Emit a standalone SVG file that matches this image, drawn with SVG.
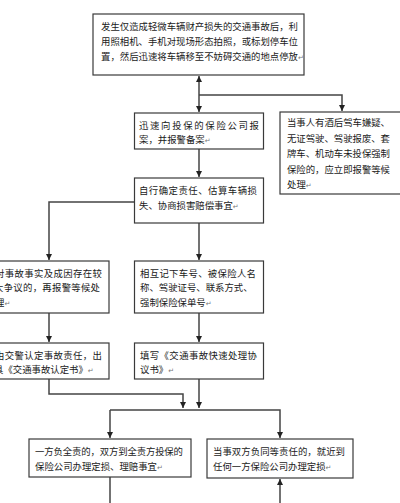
<svg xmlns="http://www.w3.org/2000/svg" width="400" height="503" viewBox="0 0 400 503">
<style>
.box{fill:#fff;stroke:#3a3a3a;stroke-width:1.2}
.t{font-family:"Noto Sans CJK SC","Noto Sans",sans-serif;font-size:9.4px;fill:#1a1a1a}
.rt{font-family:"DejaVu Sans",sans-serif;font-size:7px;fill:#777}
.c{fill:none;stroke:#444;stroke-width:1.5}
.a{marker-end:url(#ah)}
</style>
<defs>
<marker id="ah" markerUnits="userSpaceOnUse" markerWidth="8" markerHeight="8" refX="6" refY="3" orient="auto">
<path d="M0,0 L6,3 L0,6 Z" fill="#222"/>
</marker>
</defs>
<rect width="400" height="503" fill="#fff"/>
<g id="connectors">
<path class="c a" d="M199,95 L199,76"/>
<path class="c a" d="M199,95 L199,112"/>
<path class="c a" d="M199,95 L342,95 L342,111"/>
<path class="c a" d="M199,149 L199,177"/>
<path class="c a" d="M134,202 L49,202 L49,260"/>
<path class="c a" d="M199,223 L199,260"/>
<path class="c a" d="M49,313 L49,342"/>
<path class="c a" d="M199,313 L199,342"/>
<path class="c a" d="M49,379 L49,394 L183,394 L183,408"/>
<path class="c a" d="M199,379 L199,408"/>
<path class="c a" d="M110,410 L110,438"/>
<path class="c a" d="M110,410 L280,410 L280,438"/>
<path class="c" d="M110,477 L110,503"/>
<path class="c a" d="M280,503 L280,479"/>
</g>
<g id="n1">
<rect class="box" x="93" y="14" width="211" height="61"/>
<text class="t" x="101" y="29.5" textLength="197">发生仅造成轻微车辆财产损失的交通事故后，利</text>
<text class="t" x="101" y="44.5" textLength="197">用照相机、手机对现场形态拍照，或标划停车位</text>
<text class="t" x="101" y="59.5">置，然后迅速将车辆移至不妨碍交通的地点停放<tspan class="rt">↵</tspan></text>
</g>
<g id="n2">
<rect class="box" x="134.5" y="113" width="129" height="36"/>
<text class="t" x="139" y="128.5" textLength="120">迅速向投保的保险公司报</text>
<text class="t" x="139" y="143">案，并报警备案<tspan class="rt">↵</tspan></text>
</g>
<g id="n3">
<rect class="box" x="280" y="112" width="130" height="82"/>
<text class="t" x="287" y="126" textLength="103">当事人有酒后驾车嫌疑、</text>
<text class="t" x="287" y="141.5" textLength="103">无证驾驶、驾驶报废、套</text>
<text class="t" x="287" y="157" textLength="103">牌车、机动车未投保强制</text>
<text class="t" x="287" y="172.5" textLength="103">保险的，应立即报警等候</text>
<text class="t" x="287" y="188">处理<tspan class="rt">↵</tspan></text>
</g>
<g id="n4">
<rect class="box" x="134.5" y="178" width="129" height="45"/>
<text class="t" x="139" y="194" textLength="118">自行确定责任、估算车辆损</text>
<text class="t" x="139" y="208.5">失、协商损害赔偿事宜<tspan class="rt">↵</tspan></text>
</g>
<g id="n5">
<rect class="box" x="-20" y="261" width="129" height="52"/>
<text class="t" x="-5" y="276.5" textLength="107">对事故事实及成因存在较</text>
<text class="t" x="-6" y="291" textLength="106">大争议的，再报警等候处</text>
<text class="t" x="-5" y="305.5">理<tspan class="rt">↵</tspan></text>
</g>
<g id="n6">
<rect class="box" x="134.5" y="261" width="129" height="52"/>
<text class="t" x="140" y="276.5" textLength="116">相互记下车号、被保险人名</text>
<text class="t" x="140" y="291">称、驾驶证号、联系方式、</text>
<text class="t" x="140" y="305.5">强制保险保单号<tspan class="rt">↵</tspan></text>
</g>
<g id="n7">
<rect class="box" x="-20" y="343" width="129" height="36"/>
<text class="t" x="-5" y="358.5" textLength="107">由交警认定事故责任，出</text>
<text class="t" x="-6" y="372.5">具《交通事故认定书》<tspan class="rt">↵</tspan></text>
</g>
<g id="n8">
<rect class="box" x="134.5" y="343" width="129" height="36"/>
<text class="t" x="140" y="359" textLength="117">填写《交通事故快速处理协</text>
<text class="t" x="140" y="372.5">议书》<tspan class="rt">↵</tspan></text>
</g>
<g id="n9">
<rect class="box" x="29" y="439" width="162" height="38"/>
<text class="t" x="35" y="455" textLength="148">一方负全责的，双方到全责方投保的</text>
<text class="t" x="35" y="470">保险公司办理定损、理赔事宜<tspan class="rt">↵</tspan></text>
</g>
<g id="n10">
<rect class="box" x="207" y="439" width="146" height="39"/>
<text class="t" x="213" y="455" textLength="132">当事双方负同等责任的，就近到</text>
<text class="t" x="213" y="470">任何一方保险公司办理定损<tspan class="rt">↵</tspan></text>
</g>
</svg>
